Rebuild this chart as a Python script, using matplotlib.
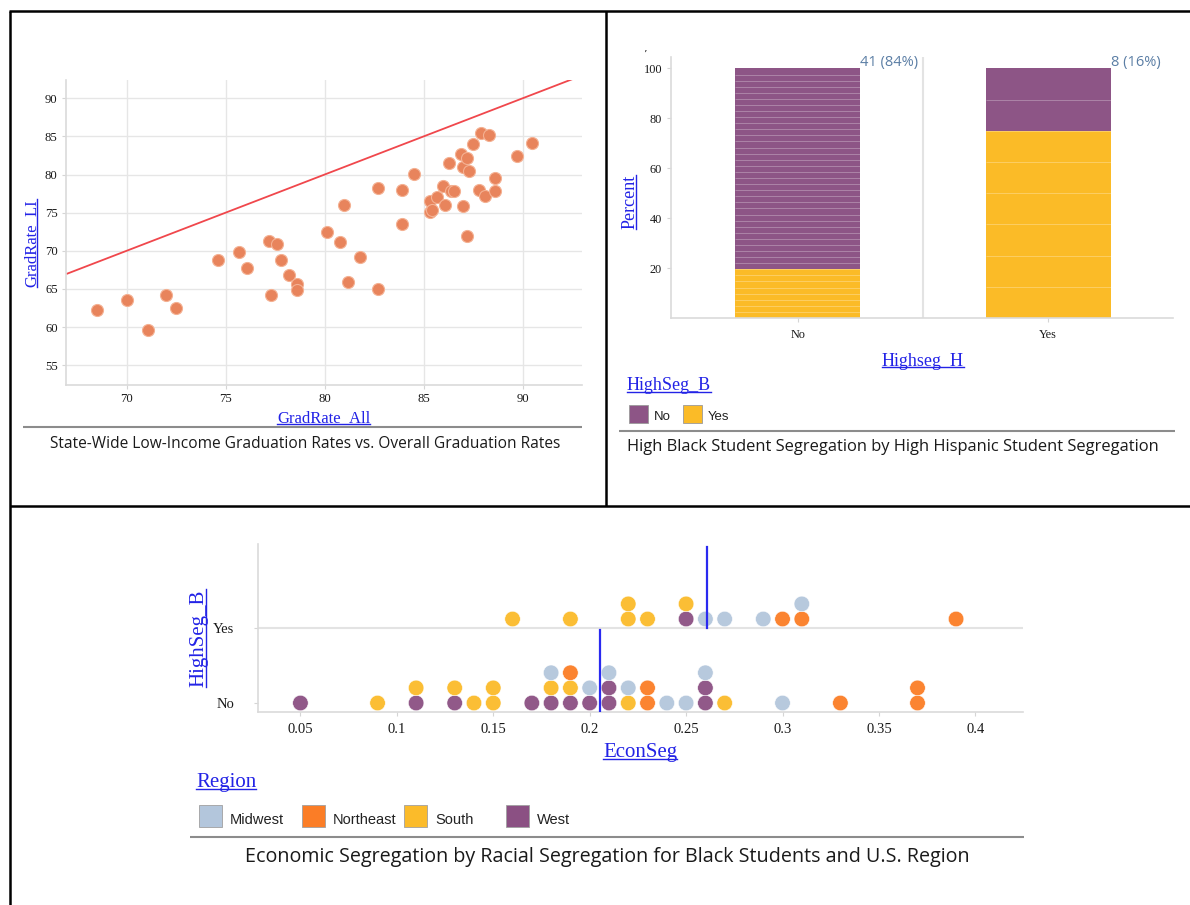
import numpy as np
import matplotlib.pyplot as plt
from matplotlib.lines import Line2D
from matplotlib.patches import Rectangle

SERIF = 'Liberation Serif'
SANS = 'Open Sans'
BLUE = '#2323e6'

# ---- data: graduation rates ----
grad_all = [68.5, 70.0, 71.1, 72.0, 72.5, 74.6, 75.7, 76.1, 77.2, 77.6, 77.8, 78.2, 78.6, 78.6, 77.3,
            80.1, 80.8, 81.0, 81.2, 81.8, 82.7, 82.7, 83.9, 83.9, 84.5, 85.3, 85.3, 85.4, 85.7, 86.0,
            86.1, 86.3, 86.4, 86.55, 86.9, 87.0, 87.0, 87.2, 87.3, 87.2, 87.5, 87.9, 88.3, 87.8, 88.1,
            88.6, 88.6, 89.7, 90.5]
grad_li = [62.3, 63.6, 59.6, 64.2, 62.5, 68.8, 69.9, 67.8, 71.3, 70.9, 68.8, 66.8, 65.6, 64.9, 64.2,
           72.5, 71.1, 76.0, 65.9, 69.2, 78.2, 65.0, 78.0, 73.5, 80.1, 76.5, 75.1, 75.3, 77.0, 78.5,
           76.0, 81.5, 77.8, 77.8, 82.7, 81.0, 75.9, 82.2, 80.4, 72.0, 84.0, 85.4, 85.2, 78.0, 77.2,
           79.6, 77.9, 82.4, 84.1]
ref_line = [67.0, 92.5]

# ---- data: segregation counts ----
highseg_h = ['No', 'Yes']
count_b_no = [33, 2]
count_b_yes = [8, 6]

# ---- data: economic segregation ----
econ_no = [0.05, 0.09, 0.11, 0.11, 0.13, 0.13, 0.14, 0.15, 0.15, 0.17, 0.18, 0.18, 0.18,
           0.19, 0.19, 0.19, 0.20, 0.20, 0.21, 0.21, 0.21, 0.22, 0.22, 0.23, 0.23, 0.24,
           0.25, 0.26, 0.26, 0.26, 0.27, 0.30, 0.33, 0.37, 0.37]
region_no = ['West', 'South', 'West', 'South', 'West', 'South', 'South', 'South', 'South', 'West',
             'West', 'South', 'Midwest', 'West', 'South', 'Northeast', 'West', 'Midwest',
             'West', 'West', 'Midwest', 'South', 'Midwest', 'Northeast', 'Northeast', 'Midwest',
             'Midwest', 'West', 'West', 'Midwest', 'South', 'Midwest', 'Northeast', 'Northeast',
             'Northeast']
econ_yes = [0.16, 0.19, 0.22, 0.22, 0.23, 0.25, 0.25, 0.26, 0.27, 0.29, 0.30, 0.31, 0.31, 0.39]
region_yes = ['South', 'South', 'South', 'South', 'South', 'West', 'South', 'Midwest', 'Midwest',
              'Midwest', 'Northeast', 'Northeast', 'Midwest', 'Northeast']
regions = ['Midwest', 'Northeast', 'South', 'West']
region_colors = {'Midwest': '#b3c6dc', 'Northeast': '#fb7d26', 'South': '#fbbb2a', 'West': '#8b5083'}

W, H = 1190, 905
fig = plt.figure(figsize=(W / 100, H / 100), dpi=100)


def fx(x):
    return x / W


def fy(y):
    return 1 - y / H


def axes_px(l, t, r, b):
    return fig.add_axes([fx(l), fy(b), (r - l) / W, (b - t) / H])


def fig_line(x0, y0, x1, y1, color='black', lw=1.8):
    fig.add_artist(Line2D([fx(x0), fx(x1)], [fy(y0), fy(y1)], color=color, lw=lw,
                          transform=fig.transFigure, solid_capstyle='butt'))


def style_axes(ax):
    for s in ['top', 'right']:
        ax.spines[s].set_visible(False)
    for s in ['left', 'bottom']:
        ax.spines[s].set_color('#dadada')
        ax.spines[s].set_linewidth(1.2)
    ax.tick_params(colors='#d5d5d5', labelcolor='#1a1a1a', length=3)
    for lab in ax.get_xticklabels() + ax.get_yticklabels():
        lab.set_fontfamily(SERIF)


underlined = []

# ---------------- scatter ----------------
ax1 = axes_px(66, 80, 582, 385)
ax1.scatter(grad_all, grad_li, s=75, color='#e8845c', edgecolor='#f4b193', linewidth=0.8, zorder=3)
ax1.plot(ref_line, ref_line, color='#f0474c', lw=1.3, zorder=2)
ax1.set_xlim(66.94, 93.0)
ax1.set_ylim(52.4, 92.4)
ax1.set_xticks([70, 75, 80, 85, 90])
ax1.set_yticks([55, 60, 65, 70, 75, 80, 85, 90])
ax1.grid(True, color='#e6e6e6', lw=1)
ax1.set_axisbelow(True)
ax1.tick_params(labelsize=9.2, pad=3)
style_axes(ax1)
underlined.append((fig.text(fx(323.5), fy(418), 'GradRate_All', color=BLUE, family=SERIF, fontsize=12,
                            ha='center', va='center'), False))
underlined.append((fig.text(fx(31), fy(243), 'GradRate_LI', color=BLUE, family=SERIF, fontsize=12,
                            ha='center', va='center', rotation=90), True))
fig_line(23, 427, 582, 427, color='#8c8c8c', lw=1.5)
fig.text(fx(50), fy(444), 'State-Wide Low-Income Graduation Rates vs. Overall Graduation Rates',
         family=SANS, fontsize=11.2, color='#1a1a1a', va='center', ha='left')

# ---------------- stacked bars ----------------
ax2 = axes_px(671, 56.7, 1173, 318)
xpos = np.arange(len(highseg_h))
bw = 0.5
total = np.array(count_b_no) + np.array(count_b_yes)
pct_yes = 100 * np.array(count_b_yes) / total
ax2.bar(xpos, pct_yes, bw, color='#fbbb27', zorder=2)
ax2.bar(xpos, 100 - pct_yes, bw, bottom=pct_yes, color='#8d5586', zorder=2)
for i in range(len(xpos)):
    unit = 100 / total[i]
    ax2.hlines(unit * np.arange(1, total[i]), xpos[i] - bw / 2, xpos[i] + bw / 2,
               color='white', alpha=0.28, lw=0.7, zorder=3)
    ax2.text(xpos[i] + bw / 2, 102.2, '%d (%d%%)' % (total[i], round(100 * total[i] / total.sum())),
             family=SANS, fontsize=10.5, color='#5b7ea5', ha='left', va='center')
ax2.axvline(0.5, color='#e3e3e3', lw=1.5, zorder=1)
ax2.set_xlim(-0.506, 1.498)
ax2.set_ylim(0, 104.7)
ax2.set_xticks(xpos)
ax2.set_xticklabels(highseg_h)
ax2.set_yticks([20, 40, 60, 80, 100])
ax2.tick_params(labelsize=8.8)
ax2.tick_params(axis='x', pad=5)
style_axes(ax2)
fig.text(fx(645), fy(55), '\u2019', fontsize=8, color='#333333', ha='center', va='center')
underlined.append((fig.text(fx(923), fy(361.5), 'Highseg_H', color=BLUE, family=SERIF, fontsize=13,
                            ha='center', va='center'), False))
underlined.append((fig.text(fx(630), fy(201.7), 'Percent', color=BLUE, family=SERIF, fontsize=13,
                            ha='center', va='center', rotation=90), True))
underlined.append((fig.text(fx(627), fy(386), 'HighSeg_B', color=BLUE, family=SERIF, fontsize=13,
                            ha='left', va='center'), False))
for (px0, lab, col) in [(629, 'No', '#8d5586'), (683, 'Yes', '#fbbb27')]:
    fig.add_artist(Rectangle((fx(px0), fy(423)), 19 / W, 18 / H, transform=fig.transFigure,
                             facecolor=col, edgecolor='#9a9a9a', lw=0.6))
    fig.text(fx(px0 + 25), fy(417), lab, family='Liberation Sans', fontsize=9.5, color='#222222',
             ha='left', va='center')
fig_line(619, 431, 1175, 431, color='#8c8c8c', lw=1.5)
fig.text(fx(627), fy(447), 'High Black Student Segregation by High Hispanic Student Segregation',
         family=SANS, fontsize=11.9, color='#1a1a1a', va='center', ha='left')

# ---------------- dot plot ----------------
ax3 = axes_px(258, 544, 1023, 712)
base, step = 0.107, 0.18
for band, vals, regs in [(0, econ_no, region_no), (1, econ_yes, region_yes)]:
    seen = {}
    ys = []
    for v in vals:
        k = seen.get(v, 0)
        seen[v] = k + 1
        ys.append(band + base + k * step)
    ax3.scatter(vals, ys, s=125, c=[region_colors[r] for r in regs], edgecolor='white',
                linewidth=0.4, alpha=0.95, zorder=3)
ax3.axhline(1, color='#e3e3e3', lw=1.5, zorder=1)
ax3.plot([np.mean(econ_no)] * 2, [0, 0.975], color='#2a2af0', lw=1.6, zorder=4)
ax3.plot([np.mean(econ_yes)] * 2, [1, 1.97], color='#2a2af0', lw=1.6, zorder=4)
ax3.set_xlim(0.028, 0.4247)
ax3.set_ylim(0, 2)
ax3.set_xticks([0.05, 0.1, 0.15, 0.2, 0.25, 0.3, 0.35, 0.4])
ax3.set_xticklabels(['0.05', '0.1', '0.15', '0.2', '0.25', '0.3', '0.35', '0.4'])
ax3.set_yticks([base, 1])
ax3.set_yticklabels(['No', 'Yes'])
ax3.tick_params(labelsize=10.5)
ax3.tick_params(axis='y', length=0, pad=14)
ax3.tick_params(axis='x', pad=5)
style_axes(ax3)
underlined.append((fig.text(fx(640), fy(752), 'EconSeg', color=BLUE, family=SERIF, fontsize=15,
                            ha='center', va='center'), False))
underlined.append((fig.text(fx(199), fy(638), 'HighSeg_B', color=BLUE, family=SERIF, fontsize=15,
                            ha='center', va='center', rotation=90), True))
underlined.append((fig.text(fx(196), fy(782), 'Region', color=BLUE, family=SERIF, fontsize=15,
                            ha='left', va='center'), False))
for px0, reg in zip([199, 302, 404, 506], regions):
    fig.add_artist(Rectangle((fx(px0), fy(827)), 23 / W, 22 / H, transform=fig.transFigure,
                             facecolor=region_colors[reg], edgecolor='#a0a0a0', lw=0.6))
    fig.text(fx(px0 + 31), fy(820), reg, family='Liberation Sans', fontsize=10.5, color='#222222',
             ha='left', va='center')
fig_line(190, 837, 1024, 837, color='#8c8c8c', lw=1.5)
fig.text(fx(607), fy(857), 'Economic Segregation by Racial Segregation for Black Students and U.S. Region',
         family=SANS, fontsize=14.2, color='#1a1a1a', va='center', ha='center')

# ---------------- panel frame ----------------
fig_line(9, 11, 1190, 11)
fig_line(10, 11, 10, 905)
fig_line(606, 11, 606, 506)
fig_line(10, 506, 1190, 506)

# ---------------- underline link-style labels ----------------
fig.canvas.draw()
renderer = fig.canvas.get_renderer()
inv = fig.transFigure.inverted()
for t, rot in underlined:
    bb = t.get_window_extent(renderer)
    (x0, y0), (x1, y1) = inv.transform([[bb.x0, bb.y0], [bb.x1, bb.y1]])
    if rot:
        xl = x1 - 0.15 * (x1 - x0)
        fig.add_artist(Line2D([xl, xl], [y0, y1], color=BLUE, lw=1, transform=fig.transFigure))
    else:
        yl = y0 + 0.15 * (y1 - y0)
        fig.add_artist(Line2D([x0, x1], [yl, yl], color=BLUE, lw=1, transform=fig.transFigure))

fig.savefig('out.png', dpi=100)
